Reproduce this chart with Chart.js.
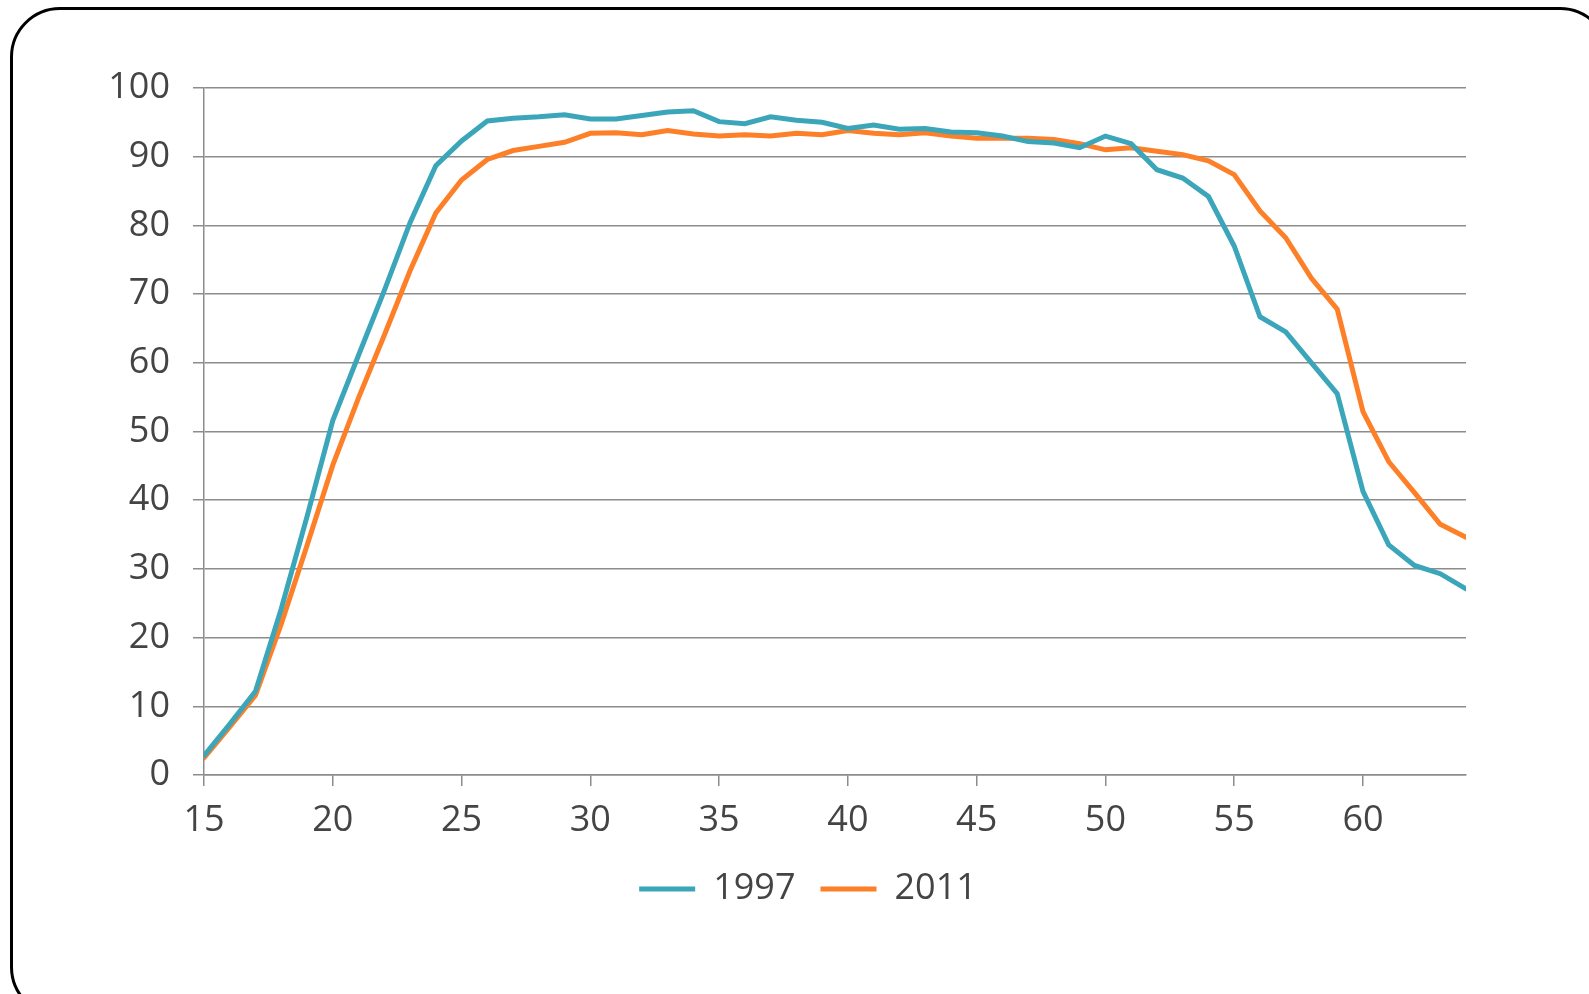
<!DOCTYPE html>
<html>
<head>
<meta charset="utf-8">
<script src="https://cdn.jsdelivr.net/npm/chart.js@4/dist/chart.umd.min.js"></script>
<style>
html, body { margin:0; padding:0; background:#fff; overflow:hidden; }
#frame { position:absolute; left:10px; top:7px; width:1600px; height:1010px; border:3px solid #000; border-radius:50px; box-sizing:border-box; }
#wrap { position:absolute; left:0; top:0; width:1589px; height:994px; }
</style>
</head>
<body>
<div id="frame"></div>
<div id="wrap"><canvas id="grafico"></canvas></div>
<script>

let ages = [15,16,17,18,19,20,21,22,23,24,25,26,27,28,29,30,31,32,33,34,35,36,37,38,39,40,41,42,43,44,45,46,47,48,49,50,51,52,53,54,55,56,57,58,59,60,61,62,63,64];

let values1997 = [2.8,7.4,12.2,24.2,37.6,51.6,61.1,70.5,80.4,88.7,92.3,95.2,95.6,95.8,96.1,95.5,95.5,96.0,96.5,96.7,95.1,94.8,95.8,95.3,95.0,94.1,94.6,94.0,94.1,93.6,93.5,93.0,92.2,92.0,91.3,93.0,91.9,88.1,86.9,84.2,77.0,66.7,64.5,60.0,55.5,41.3,33.5,30.5,29.3,27.1];

let values2011 = [2.5,7.0,11.6,22.0,33.4,45.1,54.9,64.0,73.4,81.8,86.6,89.6,90.9,91.5,92.1,93.4,93.5,93.2,93.8,93.3,93.0,93.2,93.0,93.4,93.2,93.8,93.4,93.2,93.5,93.0,92.7,92.7,92.7,92.5,91.9,91.0,91.3,90.8,90.3,89.4,87.4,82.1,78.2,72.3,67.8,52.9,45.6,41.1,36.5,34.6];

let seriesNames = ["1997", "2011"];
let yTicks = [0,10,20,30,40,50,60,70,80,90,100];

function puntos(valores){
return ages.map((a,i)=>({x:a, y:valores[i]}));
}

let gris = "#8c8c8c";
let texto = "#444444";
let fuente = {family:"'Open Sans', 'Noto Sans', sans-serif", size:36};

// la leyenda va centrada en todo el ancho, no solo en el area del grafico
let centrarLeyenda = {
id: "centrarLeyenda",
afterLayout: function(chart){
chart.legend.left = 0;
chart.legend.right = 1616;
}
};

let ctx = document.getElementById("grafico").getContext("2d");

window.miGrafico = new Chart(ctx, {

type: "line",

data: {
datasets: [
{
label: seriesNames[0],
data: puntos(values1997),
borderColor: "#3ba6b9",
backgroundColor: "#3ba6b9",
borderWidth: 5,
borderCapStyle: "round",
pointRadius: 0,
tension: 0
},
{
label: seriesNames[1],
data: puntos(values2011),
borderColor: "#fd7f28",
backgroundColor: "#fd7f28",
borderWidth: 5,
borderCapStyle: "round",
pointRadius: 0,
tension: 0
}
]
},

options: {
responsive: true,
maintainAspectRatio: false,
animation: false,
layout: {
padding: {left:0, right:123, top:88, bottom:77}
},
scales: {
x: {
type: "linear",
min: ages[0],
max: ages[ages.length-1],
afterFit: function(scale){ scale.height = 71; },
ticks: {
stepSize: 5,
includeBounds: false,
color: texto,
font: fuente,
padding: 13,
maxRotation: 0
},
grid: {
drawOnChartArea: false,
color: gris,
lineWidth: 1.5,
tickLength: 11
},
border: {color: gris, width: 1.5}
},
y: {
min: 0,
max: 100,
afterFit: function(scale){ scale.width = 204; },
afterBuildTicks: function(scale){ scale.ticks = yTicks.map(v=>({value:v})); },
ticks: {
color: texto,
font: fuente,
padding: 23
},
grid: {
color: gris,
lineWidth: 1.5,
tickLength: 11
},
border: {color: gris, width: 1.5}
}
},
plugins: {
legend: {
position: "bottom",
labels: {
usePointStyle: true,
pointStyle: "line",
pointStyleWidth: 56,
color: texto,
font: fuente,
padding: 25
}
},
tooltip: {enabled:false}
}
},

plugins: [centrarLeyenda]

});

</script>
</body>
</html>
